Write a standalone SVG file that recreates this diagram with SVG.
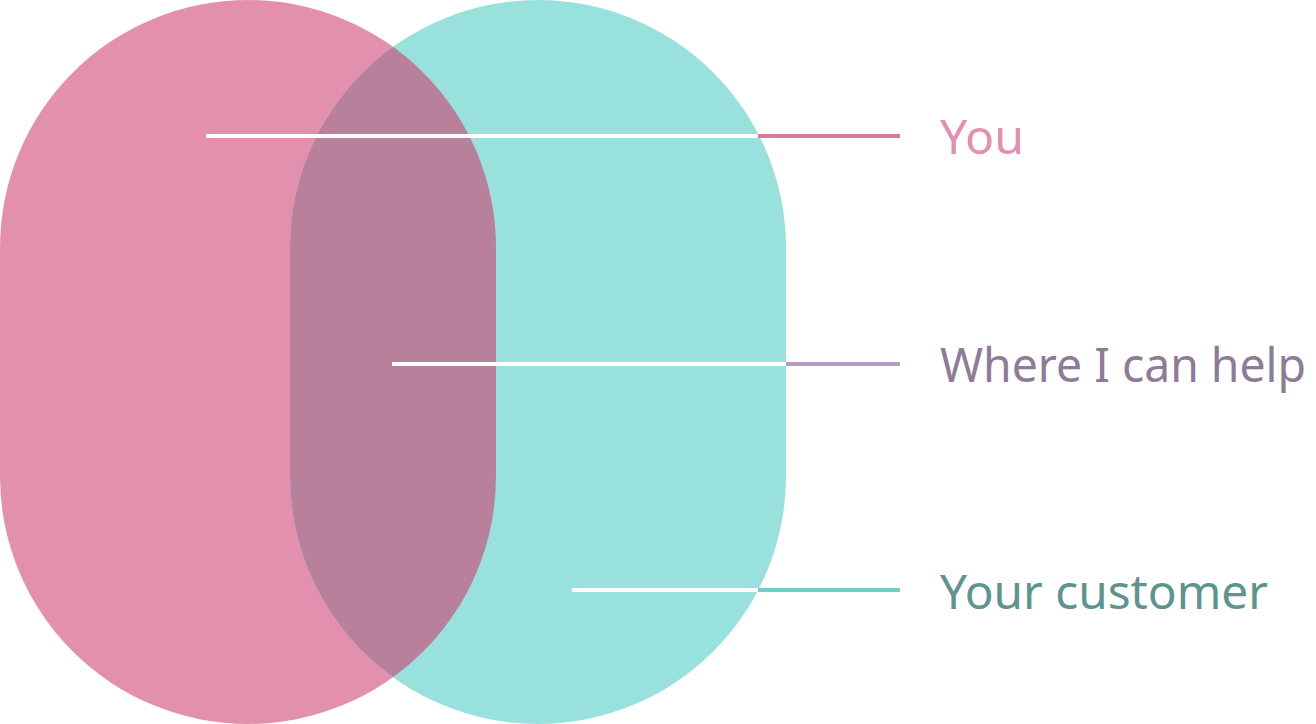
<svg xmlns="http://www.w3.org/2000/svg" width="1316" height="724" viewBox="0 0 1316 724">
  <defs>
    <clipPath id="clipPink">
      <rect x="0" y="0" width="496" height="724" rx="248" ry="248"/>
    </clipPath>
    <style>
      .lbl { font-family: "Noto Sans", "Liberation Sans", sans-serif; font-size: 48px; }
      .white { stroke: #ffffff; stroke-width: 4; fill: none; }
    </style>
  </defs>
  <rect width="1316" height="724" fill="#ffffff"/>
  <g id="you-shape">
    <rect x="0" y="0" width="496" height="724" rx="248" ry="248" fill="#e290ad"/>
  </g>
  <g id="customer-shape">
    <rect x="290" y="0" width="496" height="724" rx="248" ry="248" fill="#98e1dc"/>
  </g>
  <g id="overlap-shape">
    <rect x="290" y="0" width="496" height="724" rx="248" ry="248" fill="#b8809b" clip-path="url(#clipPink)"/>
  </g>
  <g id="connectors">
    <line class="white" x1="206" y1="136" x2="758" y2="136"/>
    <line x1="758" y1="136" x2="900" y2="136" stroke="#d87a9d" stroke-width="4"/>
    <line class="white" x1="392" y1="364" x2="786" y2="364"/>
    <line x1="786" y1="364" x2="900" y2="364" stroke="#b89ac4" stroke-width="4"/>
    <line class="white" x1="572" y1="590" x2="758" y2="590"/>
    <line x1="758" y1="590" x2="900" y2="590" stroke="#72cfc5" stroke-width="4"/>
  </g>
  <g id="label-you">
    <text class="lbl" x="940" y="154" fill="#e58fb0" textLength="84" lengthAdjust="spacingAndGlyphs">You</text>
  </g>
  <g id="label-help">
    <text class="lbl" x="940" y="382" fill="#8e7b98" style="font-size:46.5px" textLength="366" lengthAdjust="spacingAndGlyphs">Where I can help</text>
  </g>
  <g id="label-customer">
    <text class="lbl" x="940" y="609" fill="#5e948e" textLength="328" lengthAdjust="spacingAndGlyphs">Your customer</text>
  </g>
</svg>
